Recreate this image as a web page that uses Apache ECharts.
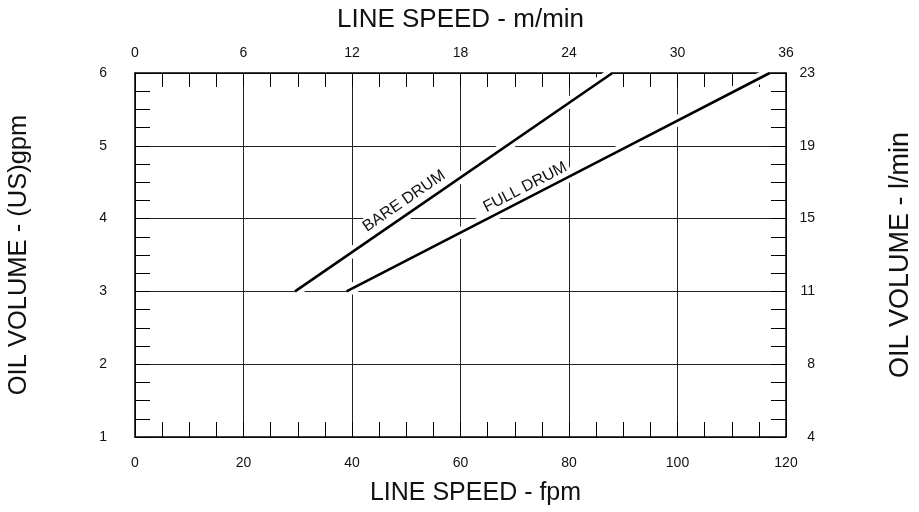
<!DOCTYPE html>
<html>
<head>
<meta charset="utf-8">
<script src="https://cdn.jsdelivr.net/npm/echarts@6/dist/echarts.min.js"></script>
<style>html,body{margin:0;padding:0;background:#fff}#c{width:919px;height:512px}</style>
</head>
<body>
<div id="c"></div>
<script>
// ---- data ----
const bareDrumFpm = [29.5, 88];
const bareDrumGpm = [3, 6];
const fullDrumFpm = [39, 65, 91, 117];
const fullDrumGpm = [3, 4, 5, 6];
const lpmLabels = ['4', '8', '11', '15', '19', '23'];
const gpmTicks = [1, 2, 3, 4, 5, 6];
const labelBare = { text: 'BARE DRUM', at: [49.6, 4.24] };
const labelFull = { text: 'FULL DRUM', at: [71.9, 4.43] };

const FONT = 'Liberation Sans, Arial, sans-serif';
const chart = echarts.init(document.getElementById('c'));

function pairs(xs, ys) { return xs.map((x, i) => [x, ys[i]]); }
const bare = pairs(bareDrumFpm, bareDrumGpm);
const full = pairs(fullDrumFpm, fullDrumGpm);

const lbl = { fontFamily: FONT, fontSize: 14, color: '#111' };
function nameStyle(size, extra) { return Object.assign({ fontFamily: FONT, fontSize: size, color: '#111' }, extra || {}); }
const axisLine = { show: true, onZero: false, lineStyle: { color: '#000', width: 1.5 } };
const split = { show: true, lineStyle: { color: '#222', width: 1 } };

function tickAxis(pos, min, max, interval, len) {
  return {
    type: 'value', position: pos, min: min, max: max, interval: interval,
    axisLine: { show: false, onZero: false }, splitLine: { show: false }, axisLabel: { show: false },
    axisTick: { show: true, inside: true, length: len, lineStyle: { color: '#000', width: 1 } },
    silent: true
  };
}

chart.setOption({
  animation: false,
  backgroundColor: '#fff',
  grid: { left: 135, right: 133, top: 73, bottom: 75, containLabel: false, outerBoundsMode: 'none' },
  xAxis: [
    {
      type: 'value', position: 'bottom', min: 0, max: 120, interval: 20,
      axisLine: axisLine, axisTick: { show: false },
      splitLine: split,
      axisLabel: Object.assign({ margin: 19 }, lbl),
      name: 'LINE SPEED - fpm', nameLocation: 'middle', nameGap: 44,
      nameTextStyle: nameStyle(25, { padding: [0, 0, 0, 30] })
    },
    {
      type: 'value', position: 'top', min: 0, max: 36, interval: 6,
      axisLine: axisLine, axisTick: { show: false },
      splitLine: { show: false },
      axisLabel: Object.assign({ margin: 13 }, lbl),
      name: 'LINE SPEED - m/min', nameLocation: 'middle', nameGap: 40, nameTextStyle: nameStyle(26)
    },
    tickAxis('bottom', 0, 120, 5, 15),
    tickAxis('top', 0, 36, 1.5, 14)
  ],
  yAxis: [
    {
      type: 'value', position: 'left', min: 1, max: 6, interval: 1,
      axisLine: axisLine, axisTick: { show: false },
      splitLine: split,
      axisLabel: Object.assign({ margin: 28 }, lbl),
      name: 'OIL VOLUME - (US)gpm', nameLocation: 'middle', nameGap: 103, nameTextStyle: nameStyle(25.5)
    },
    {
      type: 'value', position: 'right', min: 1, max: 6, interval: 1,
      axisLine: axisLine, axisTick: { show: false },
      splitLine: { show: false },
      axisLabel: Object.assign({
        margin: 29, align: 'right',
        formatter: v => { const i = gpmTicks.indexOf(Math.round(v)); return i >= 0 ? lpmLabels[i] : ''; }
      }, lbl),
      name: 'OIL VOLUME - l/min', nameLocation: 'middle', nameGap: 101, nameTextStyle: nameStyle(27)
    },
    tickAxis('left', 1, 6, 0.25, 15),
    tickAxis('right', 1, 6, 0.25, 15)
  ],
  series: [
    { type: 'line', data: bare, xAxisIndex: 0, yAxisIndex: 0, symbol: 'none', silent: true,
      lineStyle: { color: '#fff', width: 11 }, z: 3 },
    { type: 'line', data: full, xAxisIndex: 0, yAxisIndex: 0, symbol: 'none', silent: true,
      lineStyle: { color: '#fff', width: 11 }, z: 3 },
    { name: 'BARE DRUM', type: 'line', data: bare, xAxisIndex: 0, yAxisIndex: 0, symbol: 'none',
      lineStyle: { color: '#000', width: 2.6 }, z: 4 },
    { name: 'FULL DRUM', type: 'line', data: full, xAxisIndex: 0, yAxisIndex: 0, symbol: 'none',
      lineStyle: { color: '#000', width: 2.6 }, z: 4 }
  ]
});

function angleOf(pts) {
  const a = chart.convertToPixel({ xAxisIndex: 0, yAxisIndex: 0 }, pts[0]);
  const b = chart.convertToPixel({ xAxisIndex: 0, yAxisIndex: 0 }, pts[pts.length - 1]);
  return Math.atan2(a[1] - b[1], b[0] - a[0]);
}
function textEl(l, pts) {
  const p = chart.convertToPixel({ xAxisIndex: 0, yAxisIndex: 0 }, l.at);
  return {
    type: 'text', x: p[0], y: p[1], rotation: angleOf(pts), z: 10,
    style: { text: l.text, fontFamily: FONT, fontSize: 16, fill: '#111',
      align: 'center', verticalAlign: 'middle', backgroundColor: '#fff', padding: [1, 3] }
  };
}
chart.setOption({ graphic: [textEl(labelBare, bare), textEl(labelFull, full)] });
</script>
</body>
</html>
